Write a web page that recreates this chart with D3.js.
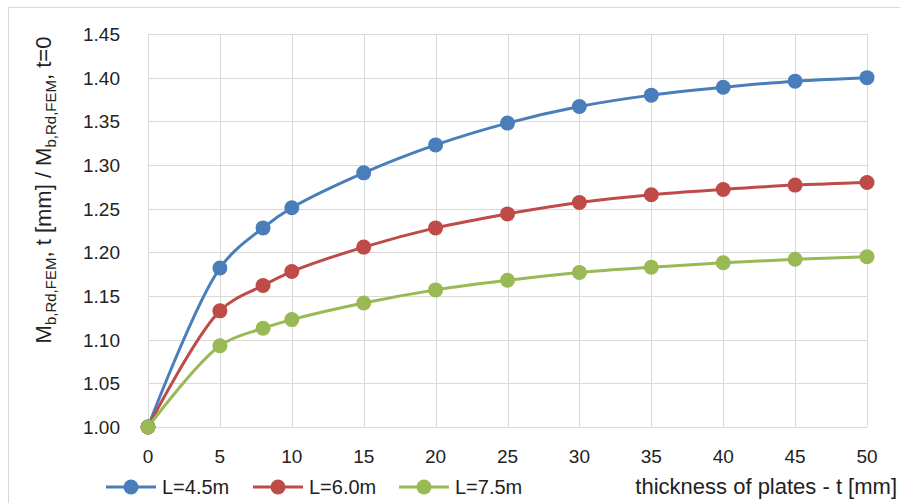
<!DOCTYPE html>
<meta charset="utf-8">
<head>
<style>
body { margin: 0; background: #fff; }
svg text { font-family: "Liberation Sans", Arial, sans-serif; fill: #222; }
.grid line { stroke: #d9d9d9; stroke-width: 1px; }
.tick-label { font-size: 19px; }
</style>
</head>
<body>
<script src="https://cdn.jsdelivr.net/npm/d3@7"></script>
<div id="chart"></div>
<script>
  var thickness = [0, 5, 8, 10, 15, 20, 25, 30, 35, 40, 45, 50];
  var l45 = [1.000, 1.182, 1.228, 1.251, 1.291, 1.323, 1.348, 1.367, 1.380, 1.389, 1.396, 1.400];
  var l60 = [1.000, 1.133, 1.162, 1.178, 1.206, 1.228, 1.244, 1.257, 1.266, 1.272, 1.277, 1.280];
  var l75 = [1.000, 1.093, 1.113, 1.123, 1.142, 1.157, 1.168, 1.177, 1.183, 1.188, 1.192, 1.195];
  var seriesNames = ["L=4.5m", "L=6.0m", "L=7.5m"];
  var seriesColors = ["#4a7ebb", "#be4b48", "#98b954"];
  var xTicks = d3.range(0, 51, 5);
  var yTicks = d3.range(1.00, 1.451, 0.05);

  var width = 900, height = 503;
  var svg = d3.select("#chart").append("svg")
      .attr("width", width).attr("height", height);

  // chart frame
  svg.append("rect")
      .attr("x", 8.5).attr("y", 7.5)
      .attr("width", 900).attr("height", 500)
      .attr("fill", "#fff").attr("stroke", "#d9d9d9");

  var x = d3.scaleLinear().domain([0, 50]).range([148, 867]);
  var y = d3.scaleLinear().domain([1.00, 1.45]).range([427, 34]);

  var grid = svg.append("g").attr("class", "grid");
  grid.selectAll(".h").data(yTicks).enter().append("line")
      .attr("x1", x(0)).attr("x2", x(50))
      .attr("y1", d => Math.round(y(d)) + 0.5).attr("y2", d => Math.round(y(d)) + 0.5);
  grid.selectAll(".v").data(xTicks).enter().append("line")
      .attr("y1", y(1.45)).attr("y2", y(1.00))
      .attr("x1", d => Math.round(x(d)) + 0.5).attr("x2", d => Math.round(x(d)) + 0.5);

  svg.append("g").selectAll("text").data(yTicks).enter().append("text")
      .attr("class", "tick-label")
      .attr("x", 120).attr("y", d => y(d) + 7)
      .attr("text-anchor", "end")
      .text(d => d.toFixed(2));

  svg.append("g").selectAll("text").data(xTicks).enter().append("text")
      .attr("class", "tick-label")
      .attr("x", d => x(d)).attr("y", 463)
      .attr("text-anchor", "middle")
      .text(d => d);

  // y axis title with subscripts
  var yt = svg.append("text")
      .attr("transform", "translate(51,190) rotate(-90)")
      .attr("text-anchor", "middle")
      .style("font-size", "22px");
  yt.append("tspan").text("M");
  yt.append("tspan").attr("dy", 5).style("font-size", "15px").text("b,Rd,FEM");
  yt.append("tspan").attr("dy", -5).text(", t [mm] / M");
  yt.append("tspan").attr("dy", 5).style("font-size", "15px").text("b,Rd,FEM");
  yt.append("tspan").attr("dy", -5).text(", t=0");

  var series = [l45, l60, l75];
  var line = d3.line()
      .x((d, i) => x(thickness[i]))
      .y(d => y(d))
      .curve(d3.curveCatmullRom.alpha(0.5));

  series.forEach(function (vals, k) {
    svg.append("path")
        .datum(vals)
        .attr("d", line)
        .attr("fill", "none")
        .attr("stroke", seriesColors[k])
        .attr("stroke-width", 3);
  });
  series.forEach(function (vals, k) {
    svg.append("g").selectAll("circle").data(vals).enter().append("circle")
        .attr("cx", (d, i) => x(thickness[i]))
        .attr("cy", d => y(d))
        .attr("r", 7.5)
        .attr("fill", seriesColors[k]);
  });

  // legend
  var legX = [106, 253, 399];
  var leg = svg.append("g");
  seriesNames.forEach(function (name, k) {
    var lx = legX[k];
    leg.append("line")
        .attr("x1", lx).attr("x2", lx + 50)
        .attr("y1", 487).attr("y2", 487)
        .attr("stroke", seriesColors[k]).attr("stroke-width", 3);
    leg.append("circle")
        .attr("cx", lx + 25).attr("cy", 487).attr("r", 7.5)
        .attr("fill", seriesColors[k]);
    leg.append("text")
        .attr("x", lx + 56).attr("y", 494)
        .style("font-size", "20px")
        .text(name);
  });

  svg.append("text")
      .attr("x", 897).attr("y", 494)
      .attr("text-anchor", "end")
      .style("font-size", "22px")
      .text("thickness of plates - t [mm]");
</script>
</body>
